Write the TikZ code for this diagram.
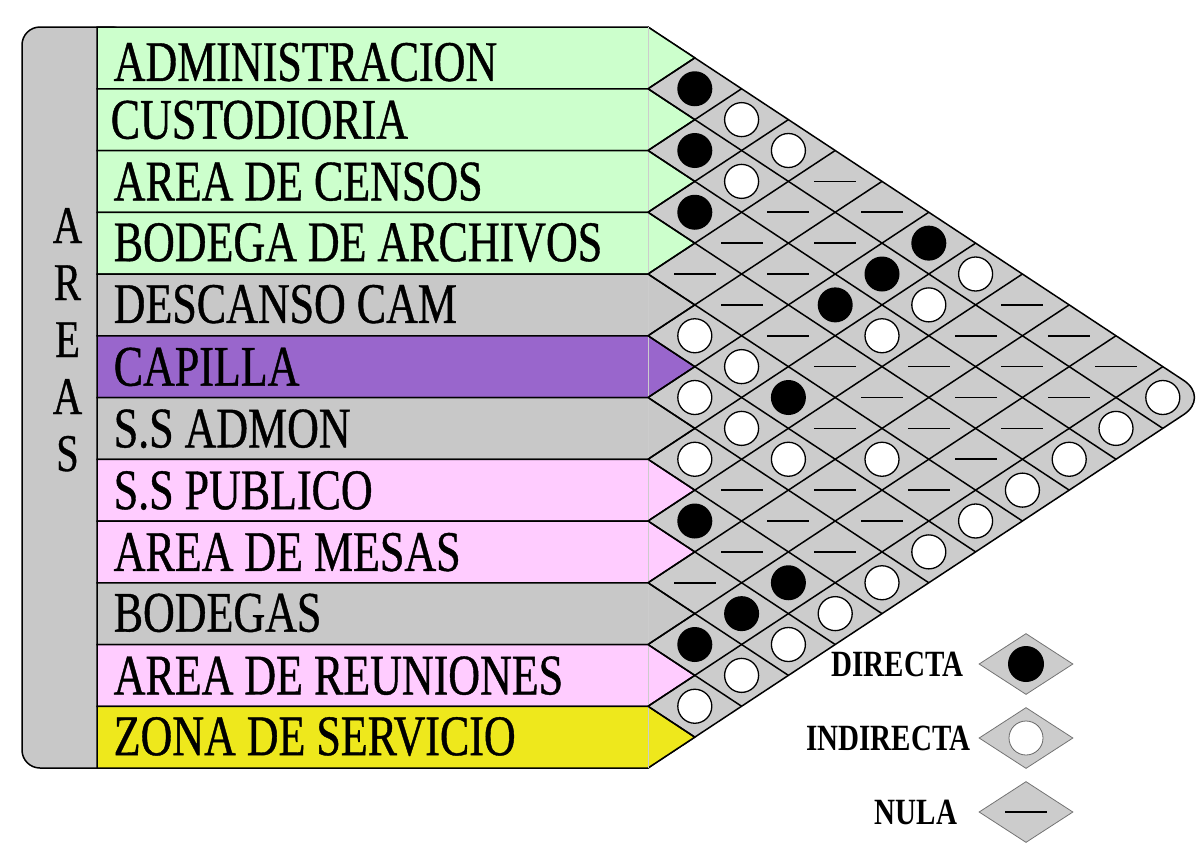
\documentclass[tikz,border=0pt]{standalone}
\usepackage{fontspec}
\usepackage{tikz}
\usetikzlibrary{shapes.geometric}
\newfontfamily\rowfont[FakeStretch=0.766,FakeBold=0.7]{Liberation Serif}
\newfontfamily\keyfont[FakeStretch=0.785]{Liberation Serif}
\definecolor{cGreen}{RGB}{204,255,204}
\definecolor{cGray}{RGB}{200,200,200}
\definecolor{cPurple}{RGB}{153,102,204}
\definecolor{cPink}{RGB}{255,204,255}
\definecolor{cYellow}{RGB}{238,232,28}
\definecolor{cCell}{RGB}{204,204,204}

\begin{document}
\begin{tikzpicture}[x=1pt,y=-1pt,line width=1.5pt,
    symD/.style={circle,fill=black,inner sep=0,minimum size=35pt},
    symI/.style={circle,draw,fill=white,inner sep=0,minimum size=34pt,line width=1.3pt},
    symN/.style={rectangle,fill=black,inner sep=0,minimum width=42pt,minimum height=1.6pt}]
  \def\xo{648} \def\yo{27} \def\w{46.8} \def\h{30.875}
  \useasboundingbox (0,0) rectangle (1201,855);
  % matrix body
  \filldraw[fill=cCell,rounded corners=31pt] (\xo,\yo) -- ({\xo+12*\w},{\yo+12*\h}) -- (\xo,{\yo+24*\h});
  % areas column
  \filldraw[fill=cGray,rounded corners=18pt] (22,\yo) rectangle (130,{\yo+24*\h});
  \foreach \l [count=\k from 0] in {A,R,E,A,S}
    \node[anchor=base,inner sep=0,font=\rowfont\fontsize{53}{53}\selectfont] (ltr\k) at (67.5,{243+57*\k}) {\l};
  % rows
  \foreach \r/\col/\lx/\dy/\name in {
     0/cGreen/113/4/ADMINISTRACION,
     1/cGreen/110/0/CUSTODIORIA,
     2/cGreen/113/0/AREA DE CENSOS,
     3/cGreen/113/-1/BODEGA DE ARCHIVOS,
     4/cGray/113/-1/DESCANSO CAM,
     5/cPurple/113/0/CAPILLA,
     6/cGray/113/0/S.S ADMON,
     7/cPink/113/0/S.S PUBLICO,
     8/cPink/113/0/AREA DE MESAS,
     9/cGray/113/-1/BODEGAS,
     10/cPink/113/0/AREA DE REUNIONES,
     11/cYellow/113/-1/ZONA DE SERVICIO} {
    \pgfmathsetmacro\ya{\yo+2*\r*\h}
    \pgfmathsetmacro\yb{\ya+2*\h}
    \filldraw[fill=\col] (97,\ya) -- (\xo,\ya) -- ({\xo+\w},{\ya+\h}) -- (\xo,\yb) -- (97,\yb) -- cycle;
    \draw[line width=0.7pt,black!20] (\xo,\ya) -- (\xo,\yb);
    \node[anchor=base west,inner sep=0,font=\rowfont\fontsize{57.4}{57.4}\selectfont] (row\r) at (\lx,{\ya+\h+19+\dy}) {\name};
  }
  % grid
  \foreach \k in {1,...,11} {
    \draw (\xo,{\yo+2*\k*\h}) -- ++({(12-\k)*\w},{(12-\k)*\h});
    \draw (\xo,{\yo+2*\k*\h}) -- ++({\k*\w},{-\k*\h});
  }
  % relations
  \foreach \i/\pat in {
     0/{D,I,I,N,N,D,I,N,N,N,I},
     1/{D,I,N,N,D,I,N,N,N,I},
     2/{D,N,N,D,I,N,N,N,I},
     3/{N,N,N,N,N,N,N,I},
     4/{I,I,D,N,I,N,I},
     5/{I,I,I,N,N,I},
     6/{I,N,N,N,I},
     7/{D,N,D,I},
     8/{N,D,I},
     9/{D,I},
     10/{I}} {
    \foreach \c [count=\d from 1] in \pat
      \node[sym\c] (cell\i-\d) at ({\xo+\d*\w},{\yo+(2*\i+\d+1)*\h}) {};
  }
  % legend
  \foreach \s/\y/\tx/\name in {D/664/964/DIRECTA, I/738/971/INDIRECTA, N/812/958/NULA} {
    \node[diamond,draw=black!55,fill=cCell,line width=0.8pt,inner sep=0,
          minimum width=94pt,minimum height=61pt] (key\s) at (1026,\y) {};
    \node[anchor=east,inner sep=0,font=\keyfont\bfseries\fontsize{37}{37}\selectfont] (key\s text) at (\tx,\y) {\name};
  }
  \node[symD,minimum size=36pt] (keyDsym) at (keyD) {};
  \node[symI,draw=black!60,line width=0.8pt] (keyIsym) at (keyI) {};
  \node[symN,minimum height=1.2pt] (keyNsym) at (keyN) {};
\end{tikzpicture}
\end{document}
